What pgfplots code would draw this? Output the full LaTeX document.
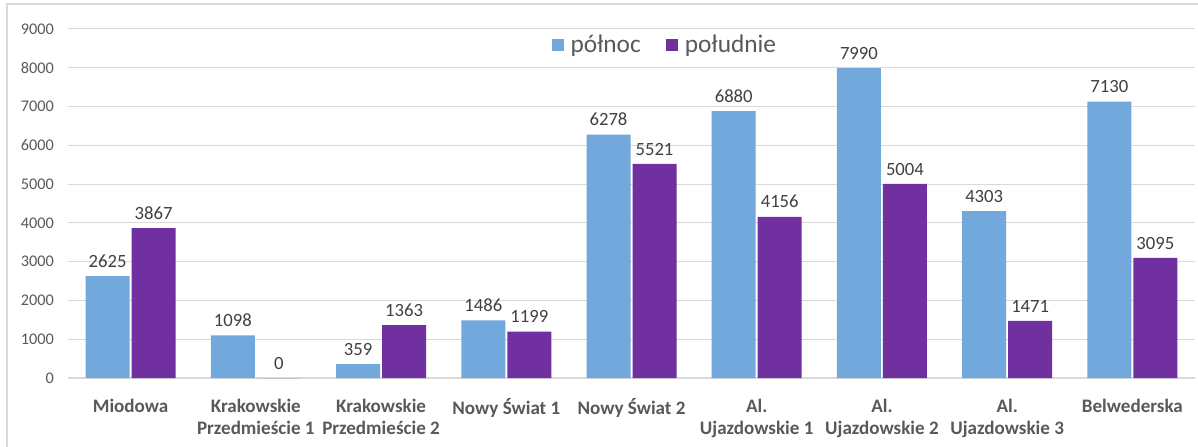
\documentclass[border=0pt]{standalone}
\usepackage{pgfplots}
\pgfplotsset{compat=1.18}
\usepackage{fontspec}
\setmainfont{Carlito}

\definecolor{polnoc}{RGB}{114,168,220}
\definecolor{poludnie}{RGB}{112,48,160}
\definecolor{gridgray}{RGB}{217,217,217}
\definecolor{txtgray}{RGB}{89,89,89}
\definecolor{lblgray}{RGB}{64,64,64}

\begin{document}
\begin{tikzpicture}
% 1 px = 0.75pt; picture is 1198 x 446 px
\useasboundingbox (-51pt,-51pt) rectangle (847.5pt,283.5pt);
\draw[gridgray, line width=0.9pt] (-45.75pt,-60pt) -- (-45.75pt,280.5pt) -- (900pt,280.5pt);
\begin{axis}[
    at={(0,0)}, anchor=south west,
    scale only axis,
    width=845.25pt, height=261.75pt,
    ybar=1.5pt,
    bar width=33pt,
    xmin=-0.5, xmax=8.5,
    ymin=0, ymax=9000,
    ytick={0,1000,...,9000},
    xtick=data,
    xticklabels={Miodowa,
                 Krakowskie\\Przedmieście 1,
                 Krakowskie\\Przedmieście 2,
                 Nowy Świat 1,
                 Nowy Świat 2,
                 Al.\\Ujazdowskie 1,
                 Al.\\Ujazdowskie 2,
                 Al.\\Ujazdowskie 3,
                 Belwederska},
    xticklabel style={align=center, font=\fontsize{14.3}{16.5}\selectfont\bfseries, text=txtgray, yshift=-12pt},
    yticklabel style={font=\fontsize{12.2}{14}\selectfont, text=txtgray, xshift=-7pt},
    /pgf/number format/assume math mode=true,
    /pgf/number format/1000 sep={},
    scaled y ticks=false,
    major tick length=0pt,
    axis line style={draw=none},
    axis x line*=bottom,
    ymajorgrids=true,
    grid style={gridgray, line width=0.75pt},
    extra y ticks={0},
    extra y tick labels={},
    extra y tick style={grid style={gridgray, line width=0.9pt}},
    nodes near coords,
    every node near coord/.append style={font=\fontsize{14}{16}\selectfont, text=lblgray, yshift=3pt},
    legend style={at={(0.53,0.954)}, anchor=center, draw=none, fill=none,
                  legend columns=2, font=\fontsize{19}{21}\selectfont, text=txtgray,
                  /tikz/every even column/.append style={column sep=17pt}},
    legend image code/.code={\fill[#1] (0pt,-4.5pt) rectangle (9pt,4.5pt);},
    legend cell align=left,
    legend style={/tikz/every odd column/.append style={column sep=3pt}},
]
\addplot[fill=polnoc, draw=none] coordinates {
    (0,2625) (1,1098) (2,359) (3,1486) (4,6278) (5,6880) (6,7990) (7,4303) (8,7130)};
\addplot[fill=poludnie, draw=none] coordinates {
    (0,3867) (1,0) (2,1363) (3,1199) (4,5521) (5,4156) (6,5004) (7,1471) (8,3095)};
\legend{północ, południe}
\end{axis}
\end{tikzpicture}
\end{document}
